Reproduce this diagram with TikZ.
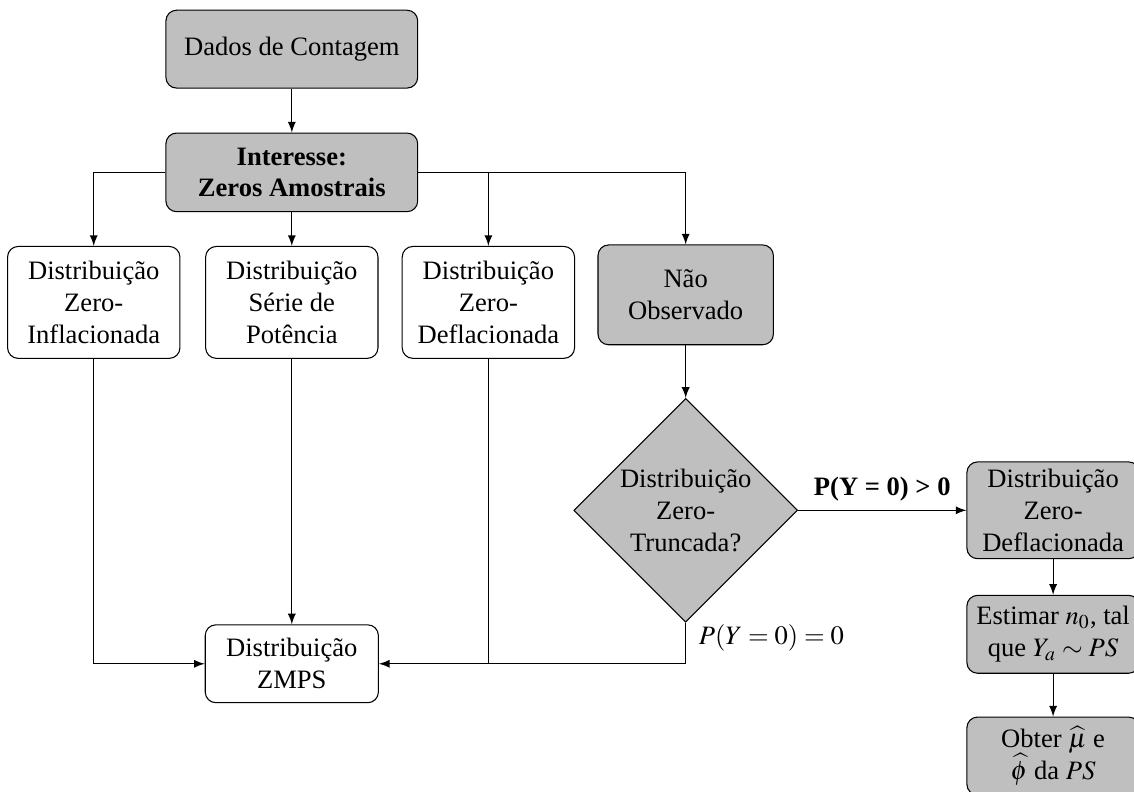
\documentclass[tikz,border=0pt]{standalone}
\usepackage{mathptmx}
\usepackage{fontspec}
\setmainfont{Liberation Serif}
\usetikzlibrary{shapes.geometric}

\tikzset{
  graybox/.style={draw, rounded corners, fill=gray!50, align=center, inner sep=2pt},
  whitebox/.style={draw, rounded corners, fill=white, align=center, inner sep=2pt},
  decision/.style={draw, diamond, fill=gray!50, align=center, aspect=1, inner sep=0pt,
    minimum width=2.96cm, minimum height=2.96cm},
}

\begin{document}
\begin{tikzpicture}[>=latex]
    \useasboundingbox (0,0) rectangle (15.0,-10.476);
    \node[graybox, minimum width=3.33cm, minimum height=1.03cm] (dados) at (3.86,-0.65) {Dados de Contagem};
    \node[graybox, minimum width=3.33cm, minimum height=1.04cm] (interesse) at (3.86,-2.28) {\textbf{Interesse:}\\\textbf{Zeros Amostrais}};
    \node[whitebox, minimum width=2.28cm, minimum height=1.48cm] (inf) at (1.24,-4.0) {Distribuição\\Zero-\\Inflacionada};
    \node[whitebox, minimum width=2.28cm, minimum height=1.48cm] (pot) at (3.86,-4.0) {Distribuição\\Série de\\Potência};
    \node[whitebox, minimum width=2.28cm, minimum height=1.48cm] (def) at (6.46,-4.0) {Distribuição\\Zero-\\Deflacionada};
    \node[graybox, minimum width=2.32cm, minimum height=1.32cm] (nao) at (9.07,-3.90) {Não\\Observado};
    \node[decision] (trunc) at (9.07,-6.75) {Distribuição\\Zero-\\Truncada?};
    \node[graybox, minimum width=2.28cm, minimum height=1.28cm] (def2) at (13.93,-6.75) {Distribuição\\Zero-\\Deflacionada};
    \node[graybox, minimum width=2.28cm, minimum height=1.03cm] (estimar) at (13.93,-8.39) {Estimar $n_0$, tal\\que $Y_a \sim PS$};
    \node[graybox, minimum width=2.28cm, minimum height=1.03cm] (obter) at (13.93,-10.0) {Obter $\widehat{\mu}$ e\\$\widehat{\phi}$ da $PS$};
    \node[whitebox, minimum width=2.29cm, minimum height=1.03cm] (zmps) at (3.86,-8.78) {Distribuição\\ZMPS};

    % ligacoes
    \draw[->] (dados) -- (interesse);
    \draw[->] (interesse.west) -| (inf.north);
    \draw[->] (interesse) -- (pot);
    \draw[->] (interesse.east) -| (def.north);
    \draw[->] (interesse.east) -| (nao.north);
    \draw[->] (nao) -- (trunc);
    \draw[->] (trunc) -- node[above] (maior) {\textbf{P(Y = 0) > 0}} (def2);
    \draw[->] (def2) -- (estimar);
    \draw[->] (estimar) -- (obter);
    \draw[->] (inf.south) |- (zmps.west);
    \draw[->] (pot) -- (zmps);
    \draw[->] (trunc.south) |- (zmps.east);
    \draw (def.south) -- (def.south |- zmps.east);
    \node[right] (igual) at (9.12,-8.44) {$P(Y=0)=0$};
  \end{tikzpicture}
\end{document}
